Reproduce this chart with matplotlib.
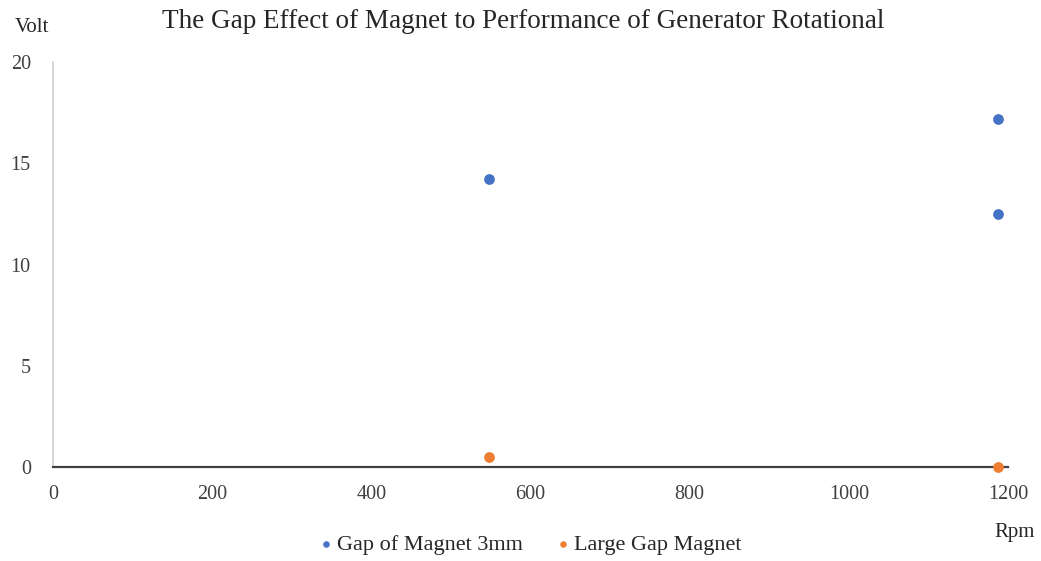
import matplotlib.pyplot as plt

plt.rcParams['font.family'] = ['Liberation Serif', 'DejaVu Serif']

rpm_3mm = [548, 1187, 1187]
volt_3mm = [14.2, 17.2, 12.5]
rpm_large = [548, 1187]
volt_large = [0.5, 0.02]

x_ticks = [0, 200, 400, 600, 800, 1000, 1200]
y_ticks = [0, 5, 10, 15, 20]

fig = plt.figure(figsize=(10.41, 5.61), dpi=100)
ax = fig.add_axes([53 / 1041, 94 / 561, 955 / 1041, 405 / 561])

ax.scatter(rpm_3mm, volt_3mm, s=45, color='#4472C4', label='Gap of Magnet 3mm', zorder=3, clip_on=False)
ax.scatter(rpm_large, volt_large, s=45, color='#ED7D31', label='Large Gap Magnet', zorder=3, clip_on=False)

ax.set_xlim(0, 1200)
ax.set_ylim(0, 20)
ax.set_xticks(x_ticks)
ax.set_yticks(y_ticks)
ax.tick_params(length=0, labelsize=14.5, colors='#404040', pad=13)
ax.tick_params(axis='y', pad=16)

for s in ['top', 'right']:
    ax.spines[s].set_visible(False)
ax.spines['left'].set_color('#d0d0d0')
ax.spines['left'].set_linewidth(1.2)
ax.spines['bottom'].set_color('#404040')
ax.spines['bottom'].set_linewidth(1.6)

fig.text(523 / 1041, 1 - 21 / 561, 'The Gap Effect of Magnet to Performance of Generator Rotational',
         ha='center', va='center', fontsize=19.5, color='#262626')
fig.text(32 / 1041, 1 - 28 / 561, 'Volt', ha='center', va='center', fontsize=15, color='#262626')
fig.text(1015 / 1041, 1 - 532 / 561, 'Rpm', ha='center', va='center', fontsize=15, color='#262626')

fig.legend(loc='center', bbox_to_anchor=(528 / 1041, 1 - 545 / 561), ncol=2, frameon=False,
           fontsize=16, markerscale=0.55, handletextpad=0.0, handlelength=1.0,
           columnspacing=1.3, labelcolor='#262626')

fig.savefig('out.png', dpi=100)
